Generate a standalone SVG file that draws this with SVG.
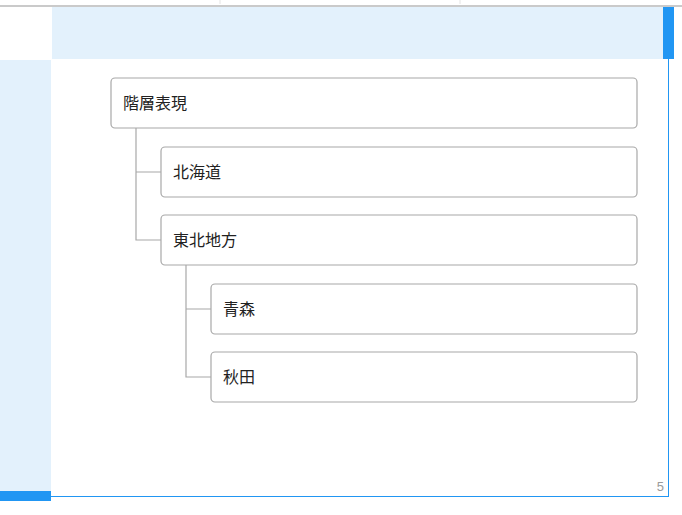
<svg xmlns="http://www.w3.org/2000/svg" width="682" height="515" viewBox="0 0 682 515">
<style>
.node rect{fill:#fff;stroke:#a8a8a8;stroke-width:1.2}
.node text{font-family:"Noto Sans CJK JP","Noto Sans",sans-serif;font-size:16px;fill:#222}
.conn{stroke:#a8a8a8;stroke-width:1.2;fill:none}
</style>
<rect x="0" y="0" width="682" height="515" fill="#fff"/>
<g id="frame">
<line x1="0" y1="6" x2="682" y2="6" stroke="#b8b8b8" stroke-width="1.5"/>
<line x1="220" y1="0" x2="220" y2="4" stroke="#e4e4e4"/>
<line x1="460" y1="0" x2="460" y2="4" stroke="#e4e4e4"/>
<rect x="52" y="7" width="611" height="52" fill="#e3f1fc"/>
<rect x="663" y="7" width="11" height="52" fill="#2196f3"/>
<rect x="0" y="60" width="51" height="431" fill="#e3f1fc"/>
<rect x="0" y="491" width="51" height="10" fill="#2196f3"/>
<line x1="668.5" y1="59" x2="668.5" y2="497" stroke="#2196f3" stroke-width="1"/>
<line x1="51" y1="496.5" x2="669" y2="496.5" stroke="#2196f3" stroke-width="1.2"/>
<text x="664" y="491" font-family="Liberation Sans,sans-serif" font-size="13" fill="#9a9a9a" text-anchor="end">5</text>
</g>
<g id="connectors">
<path class="conn" d="M136 128 V240 H161 M136 172 H161"/>
<path class="conn" d="M186 265 V377 H211 M186 309 H211"/>
</g>
<g id="n1" class="node"><rect x="111" y="78" width="526" height="50" rx="4"/><text x="123" y="109">階層表現</text></g>
<g id="n2" class="node"><rect x="161" y="147" width="476" height="50" rx="4"/><text x="173" y="178">北海道</text></g>
<g id="n3" class="node"><rect x="161" y="215" width="476" height="50" rx="4"/><text x="173" y="246">東北地方</text></g>
<g id="n4" class="node"><rect x="211" y="284" width="426" height="50" rx="4"/><text x="223" y="315">青森</text></g>
<g id="n5" class="node"><rect x="211" y="352" width="426" height="50" rx="4"/><text x="223" y="383">秋田</text></g>
</svg>
